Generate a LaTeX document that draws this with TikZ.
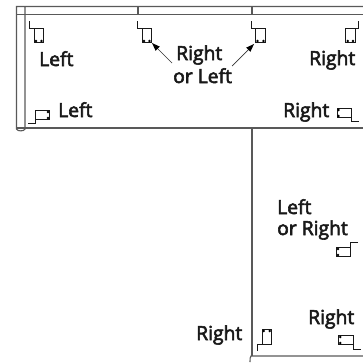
\documentclass[tikz,border=0pt]{standalone}
\usepackage{fontspec}
\newfontfamily\lab[FakeBold=3]{Open Sans}
\tikzset{
  wall/.style={draw=black!65,line width=1.1pt},
  bar/.style={draw=black!90,line width=0.9pt},
  dotmark/.style={fill=black,circle,inner sep=0pt,minimum size=2.8pt},
  lbl/.style={anchor=base west,inner sep=0pt,font=\lab\fontsize{19.3}{20}\selectfont,text=black!90},
  lead/.style={draw=black!80,line width=0.7pt},
  leadtip/.style={fill=black,draw=none}
}
\newcommand{\tiedots}[4]{\node[dotmark] at (#1,#2) {};\node[dotmark] at (#3,#4) {};}
\begin{document}
\begin{tikzpicture}[x=1pt,y=-1pt]
\useasboundingbox (0,0) rectangle (363,362);
% walls
\draw[wall] (363,6.5) -- (16.5,6.5) -- (16.5,129) .. controls (17,131.5) and (24.5,131.5) .. (25,129) -- (25,6.5);
\draw[wall] (16.5,14.5) -- (363,14.5);
\draw[wall] (16.5,128) -- (363,128);
\draw[wall] (138,6.5) -- (138,14.5);
\draw[wall] (252,6.5) -- (252,14.5);
\draw[wall] (252,128) -- (252,356);
\draw[wall] (363,356) -- (251,356) .. controls (250,357) and (250,359) .. (250,362);
% bars: top wall
\draw[bar] (29.5,21) -- (29.5,28.5) -- (43.5,28.5) -- (43.5,42) -- (34,42) -- (34,28.5);
\tiedots{36}{41}{41.5}{41}
\draw[bar] (137.5,21) -- (137.5,28.5) -- (151,28.5) -- (151,42) -- (142,42) -- (142,28.5);
\tiedots{144}{41}{149.5}{41}
\draw[bar] (251.7,21) -- (251.7,28.5) -- (265.3,28.5) -- (265.3,42) -- (255.7,42) -- (255.7,28.5);
\tiedots{257.5}{41}{263.5}{41}
\draw[bar] (358.7,21) -- (358.7,28.5) -- (345.5,28.5) -- (345.5,42) -- (355,42) -- (355,28.5);
\tiedots{347.7}{41}{353}{41}
% bars: bottom of span
\draw[bar] (28,123.5) -- (35.5,123.5) -- (35.5,110) -- (49.5,110) -- (49.5,119.5) -- (35.5,119.5);
\tiedots{48}{112}{48}{118}
\draw[bar] (358.7,121.5) -- (351,121.5) -- (351,108) -- (337,108) -- (337,117.3) -- (351,117.3);
\tiedots{338.5}{110}{338.5}{116}
% bars: stem
\draw[bar] (358,242.7) -- (350.3,242.7) -- (350.3,256.3) -- (336.3,256.3) -- (336.3,247.3) -- (350.3,247.3);
\tiedots{338}{249}{338}{255}
\draw[bar] (360.5,349) -- (353,349) -- (353,335.3) -- (338.7,335.3) -- (338.7,344.3) -- (353,344.3);
\tiedots{340.3}{337}{340.3}{343}
\draw[bar] (257.7,351) -- (257.7,344) -- (271.7,344) -- (271.7,329.3) -- (262,329.3) -- (262,344);
\tiedots{263.7}{331}{269.7}{331}
% labels
\node[lbl] (l1) at (39,66) {Left};
\node[lbl] (l2) at (176,60) {Right};
\node[lbl] (l3) at (173,83) {or Left};
\node[lbl] (l4) at (309,65) {Right};
\node[lbl] (l5) at (58,117) {Left};
\node[lbl] (l6) at (283,117) {Right};
\node[lbl] (l7) at (277,214) {Left};
\node[lbl] (l8) at (277,235) {or Right};
\node[lbl] (l9) at (308,324) {Right};
\node[lbl] (l10) at (196,340) {Right};
% leaders
\coordinate (a1) at (172,63);
\coordinate (a1t) at (157,48);
\coordinate (a2) at (232,66);
\coordinate (a2t) at (249,49);
\draw[lead] (a1) -- (a1t);
\draw[lead] (a2) -- (a2t);
\fill[leadtip] (152,43) -- (159.8,46.6) -- (155.6,50.8) -- cycle;
\fill[leadtip] (254,44) -- (250.4,51.8) -- (246.2,47.6) -- cycle;
\end{tikzpicture}
\end{document}
